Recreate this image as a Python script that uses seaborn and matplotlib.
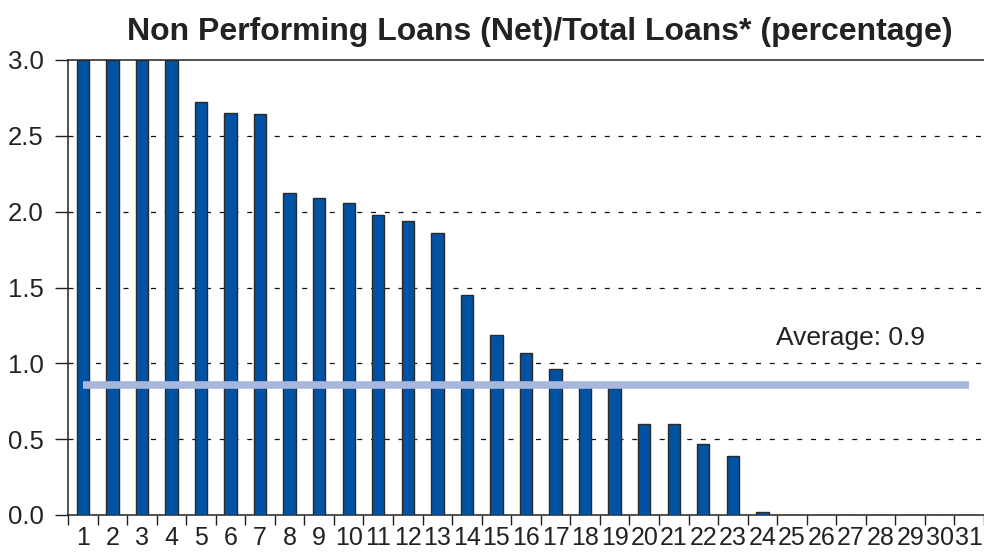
import numpy as np
import pandas as pd
import seaborn as sns
import matplotlib.pyplot as plt

# data
banks = [str(i) for i in range(1, 32)]
npl_ratio = [3.0, 3.0, 3.0, 3.0, 2.72, 2.65, 2.645, 2.12, 2.09, 2.06, 1.98, 1.94, 1.86,
             1.45, 1.19, 1.07, 0.96, 0.85, 0.84, 0.60, 0.60, 0.47, 0.39, 0.02,
             0.0, 0.0, 0.0, 0.0, 0.0, 0.0, 0.0]
average = 0.857
avg_label = 'Average: 0.9'
y_ticks = [0.0, 0.5, 1.0, 1.5, 2.0, 2.5, 3.0]

df = pd.DataFrame({'bank': banks, 'npl': npl_ratio})

sns.set_style('white')
plt.rcParams['font.family'] = ['Liberation Sans', 'DejaVu Sans']

fig = plt.figure(figsize=(9.84, 5.53), dpi=100)
ax = fig.add_axes([68 / 984, 1 - 515 / 553, 916 / 984, 455 / 553])

sns.barplot(data=df, x='bank', y='npl', order=banks, color='#0052A3', saturation=1,
            width=0.42, edgecolor='#2a2a2a', linewidth=1.0, ax=ax, zorder=3)

# average line across all banks
ax.plot([0, len(banks) - 1], [average, average], color='#A9B7DD', lw=5.5,
        solid_capstyle='butt', zorder=4)
ax.text(23.45, average + 0.31, avg_label, fontsize=19, color='#222222', va='center')

ax.set_xlim(-0.5, len(banks) - 0.5)
ax.set_ylim(0, 3.0)

# dashed gridlines
for v in y_ticks[1:-1]:
    ax.axhline(v, color='#111111', lw=0.9, ls=(0, (4, 7)), zorder=1)

ax.set_yticks(y_ticks)
ax.set_yticklabels([f'{v:.1f}' for v in y_ticks], fontsize=18.5, color='#222222')
ax.tick_params(axis='y', left=True, length=9.5, width=1, color='#222222', pad=8)

# ticks between categories, labels at centres
ax.set_xticks(np.arange(-0.5, len(banks), 1.0))
ax.set_xticklabels([])
ax.tick_params(axis='x', which='major', bottom=True, length=7, width=1, color='#222222')
ax.set_xticks(np.arange(len(banks)), minor=True)
ax.set_xticklabels(banks, minor=True, fontsize=18, color='#222222')
ax.tick_params(axis='x', which='minor', bottom=True, length=0, pad=8)
ax.set_xlabel('')
ax.set_ylabel('')

for s in ['left', 'bottom', 'top']:
    ax.spines[s].set_color('#222222')
    ax.spines[s].set_linewidth(1.1)
ax.spines['right'].set_visible(False)

fig.text(540 / 984, 1 - 32 / 553, 'Non Performing Loans (Net)/Total Loans* (percentage)',
         ha='center', va='center', fontsize=23, fontweight='bold', color='#222222')

fig.savefig('out.png', dpi=100)
